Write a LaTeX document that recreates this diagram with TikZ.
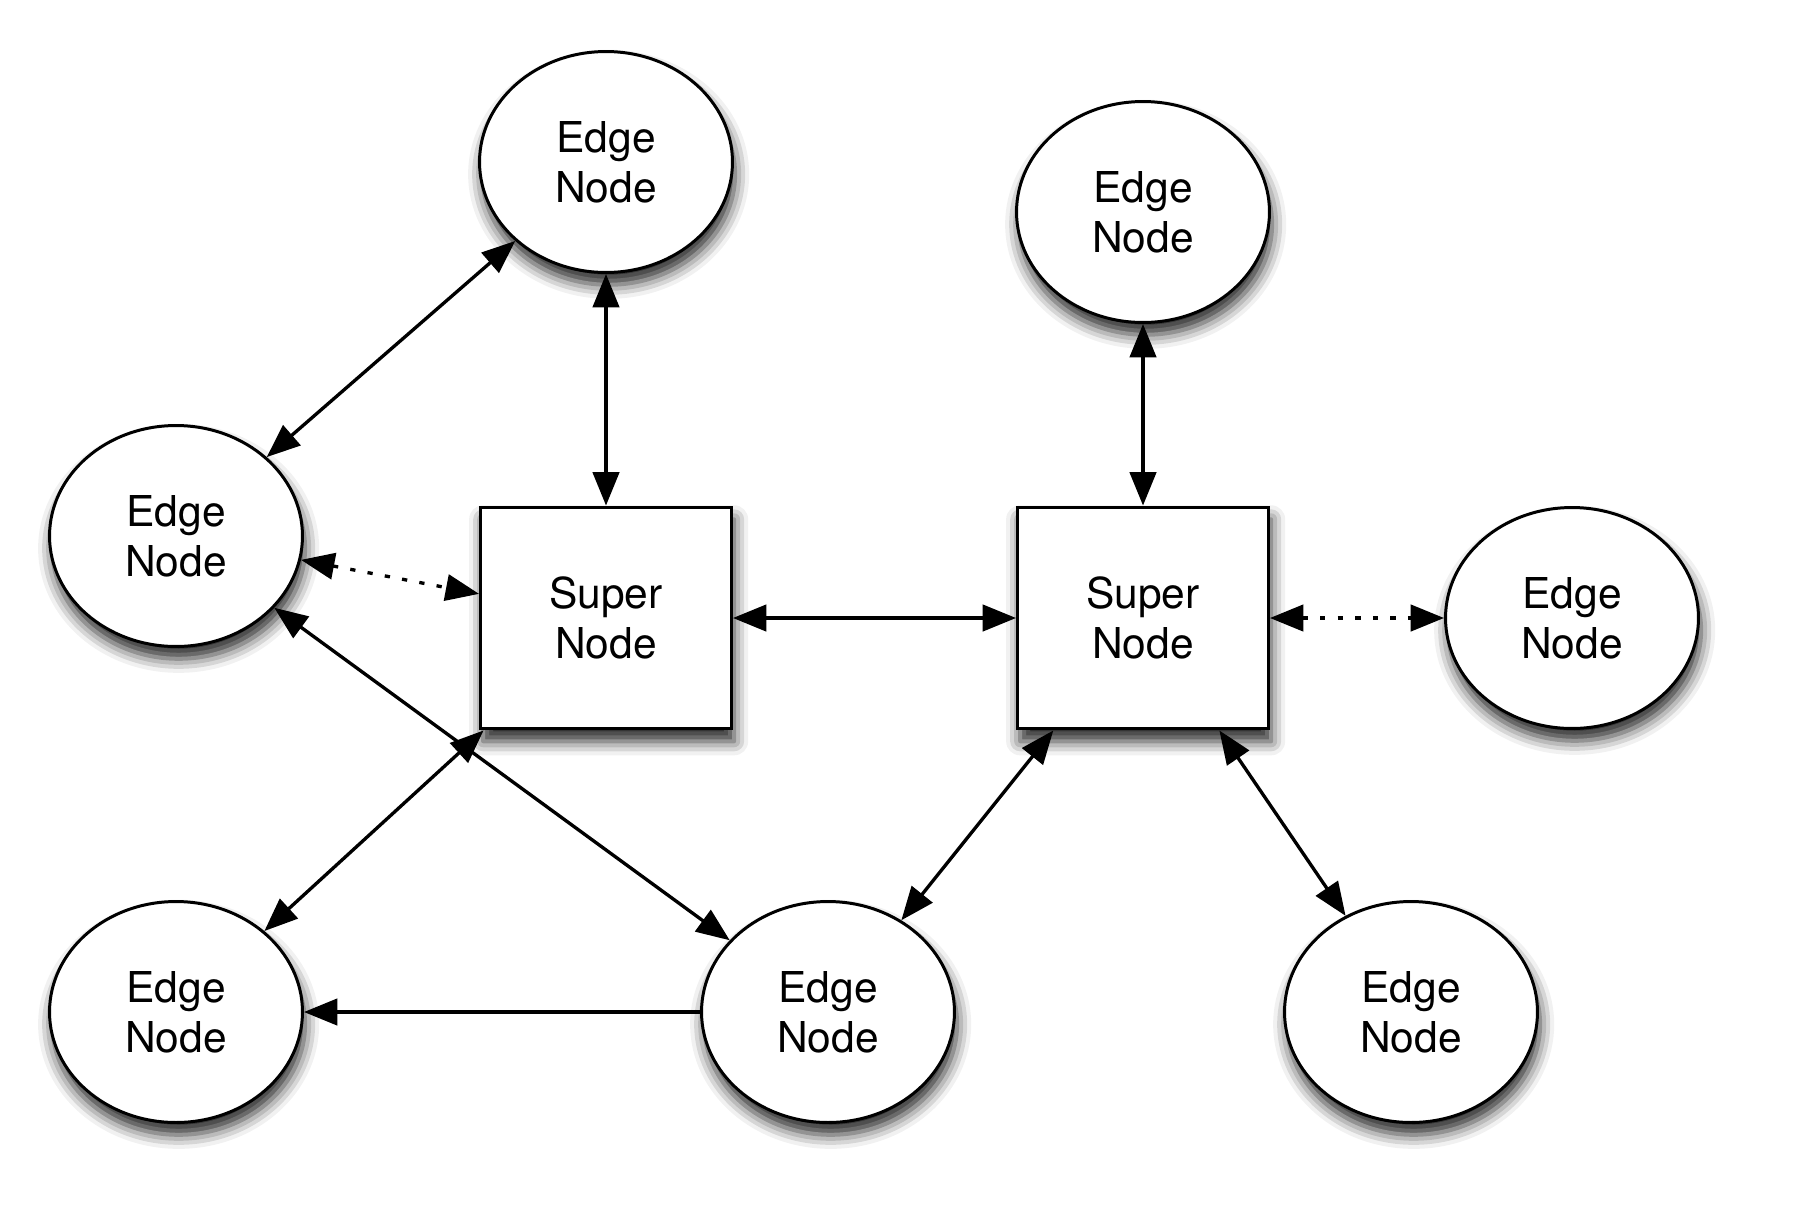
\documentclass[tikz,border=0pt]{standalone}
\usepackage{fontspec}
\setmainfont{TeX Gyre Heros}
\usetikzlibrary{shapes.geometric,arrows.meta,shadows.blur}

\begin{document}
\begin{tikzpicture}[x=0.02cm, y=-0.02cm, line width=1.9pt,
		>={Triangle[length=19pt,width=15pt]},
		every node/.style={font=\fontsize{24.2pt}{28.5pt}\selectfont, align=center},
		dropshadow/.style={blur shadow={shadow xshift=1.5pt, shadow yshift=-7pt, shadow blur radius=8pt, shadow opacity=85}},
		edgenode/.style={draw, ellipse, fill=white, line width=1.7pt, minimum width=5.06cm, minimum height=4.42cm, dropshadow},
		supernode/.style={draw, rectangle, fill=white, line width=1.7pt, minimum width=5.02cm, minimum height=4.44cm, dropshadow},
		weak/.style={dash pattern=on 3pt off 7pt}]
		\useasboundingbox (0,0) rectangle (1815,1221);
		
		\node[supernode] (s1) at (606,618) {Super\\Node};
		\node[supernode] (s2) at (1143,618) {Super\\Node};
		
		\node[edgenode] (e1) at (606,162) {Edge\\Node};
		\node[edgenode] (e2) at (1143,212) {Edge\\Node};
		\node[edgenode] (e3) at (176,536) {Edge\\Node};
		\node[edgenode] (e4) at (1572,618) {Edge\\Node};
		\node[edgenode] (e5) at (176,1012) {Edge\\Node};
		\node[edgenode] (e6) at (828,1012) {Edge\\Node};
		\node[edgenode] (e7) at (1411,1012) {Edge\\Node};
		
		\draw[<->] (e1) -- (e3);
		\draw[<->] (e1) -- (s1);
		\draw[<->] (e2) -- (s2);
		\draw[<->, weak] (e3) -- (s1);
		\draw[<->] (e3) -- (e6);
		\draw[<->] (s1) -- (e5);
		\draw[<->] (s1) -- (s2);
		\draw[<->, weak] (s2) -- (e4);
		\draw[<->] (s2) -- (e6);
		\draw[<->] (s2) -- (e7);
		\draw[->] (e6) -- (e5);
		
	\end{tikzpicture}
\end{document}
